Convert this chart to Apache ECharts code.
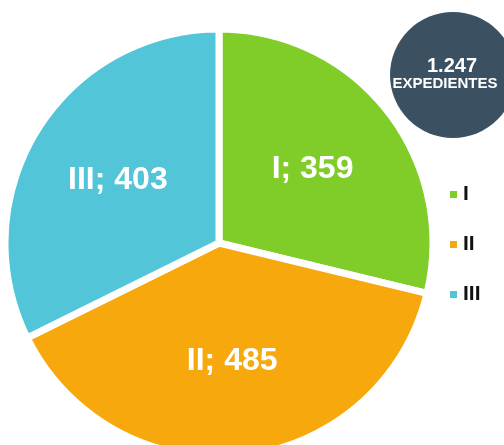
<!DOCTYPE html>
<html>
<head>
    <meta charset="UTF-8">
    <title>Expedientes</title>
    <script src="https://cdn.jsdelivr.net/npm/echarts@6/dist/echarts.min.js"></script>
    <style>
        html, body { margin: 0; padding: 0; background: #fff; }
        #chart { width: 504px; height: 445px; }
    </style>
</head>
<body>
<div id="chart"></div>
<script type="text/javascript">
    // values
    var categories = ['I', 'II', 'III'];
    var values = [359, 485, 403];
    var colors = ['#80cc28', '#f7a80d', '#53c5d9'];
    var totalCaption = 'EXPEDIENTES';

    var chart = echarts.init(document.getElementById('chart'));

    var total = values.reduce(function (a, b) { return a + b; }, 0);
    var totalText = String(total).replace(/\B(?=(\d{3})+(?!\d))/g, '.');

    var pieData = categories.map(function (c, i) {
        return { name: c, value: values[i], itemStyle: { color: colors[i] } };
    });
    var labelData = categories.map(function (c, i) {
        return { name: c, value: values[i] };
    });

    var font = 'Liberation Sans, Arial, sans-serif';

    var option = {
        animation: false,
        legend: {
            orient: 'vertical',
            left: 443,
            top: 179,
            itemWidth: 9,
            itemHeight: 9,
            itemGap: 29,
            itemTextGap: 6,
            icon: 'rect',
            data: categories,
            textStyle: {
                color: '#111',
                fontSize: 21,
                fontWeight: 'bold',
                lineHeight: 21,
                fontFamily: font
            }
        },
        graphic: [
            {
                type: 'circle',
                shape: { cx: 453, cy: 75, r: 63 },
                style: { fill: '#3b5162' },
                silent: true
            },
            {
                type: 'text',
                x: 452, y: 66,
                style: {
                    text: totalText, fill: '#fff', font: 'bold 20px ' + font,
                    align: 'center', verticalAlign: 'middle'
                }
            },
            {
                type: 'text',
                x: 445, y: 84,
                style: {
                    text: totalCaption, fill: '#fff', font: 'bold 15px ' + font,
                    align: 'center', verticalAlign: 'middle'
                }
            }
        ],
        series: [
            {
                type: 'pie',
                center: [219, 243],
                radius: 214,
                startAngle: 90,
                clockwise: true,
                silent: true,
                label: { show: false },
                labelLine: { show: false },
                itemStyle: { borderColor: '#fff', borderWidth: 7 },
                data: pieData
            },
            {
                // transparent copy that only carries the labels a bit further out
                type: 'pie',
                center: [219, 243],
                radius: 232,
                startAngle: 90,
                clockwise: true,
                silent: true,
                itemStyle: { color: 'rgba(0,0,0,0)', borderWidth: 0 },
                label: {
                    show: true,
                    position: 'inside',
                    formatter: '{b}; {c}',
                    color: '#fff',
                    fontSize: 32,
                    fontWeight: 'bold',
                    fontFamily: font
                },
                labelLine: { show: false },
                data: labelData
            }
        ]
    };

    chart.setOption(option);
</script>
</body>
</html>
